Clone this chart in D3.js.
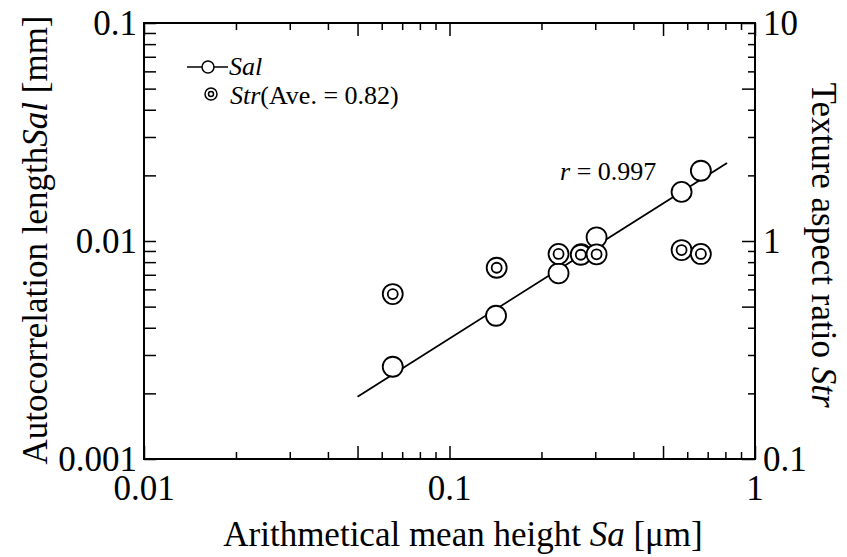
<!DOCTYPE html>
<html lang="en">
<head>
    <meta charset="UTF-8">
    <title>Sal and Str vs Sa</title>
    <script src="https://d3js.org/d3.v7.min.js"></script>
    <style>
        body { margin: 0; background: #fff; }
        svg text { font-family: "Liberation Serif", "Times New Roman", Times, "Nimbus Roman", "Nimbus Roman No9 L", "Noto Serif", "DejaVu Serif", "FreeSerif", Tinos, serif; fill: #000; }
        .tick-label { font-size: 35px; }
        .title { font-size: 35px; }
        .small { font-size: 26px; }
    </style>
</head>
<body>
    <div id="chart"></div>
    <script>
        // Data
        const saSal = [0.0652, 0.142, 0.2275, 0.27, 0.303, 0.575, 0.665];
        const salValues = [0.00265, 0.00454, 0.00711, 0.0087, 0.0104, 0.0168, 0.0210];
        const saStr = [0.0652, 0.1427, 0.2275, 0.269, 0.303, 0.575, 0.665];
        const strValues = [0.571, 0.754, 0.872, 0.865, 0.869, 0.909, 0.872];
        // regression line end points (r = 0.997)
        const fitX = [0.05, 0.81];
        const fitY = [0.00193, 0.0228];

        const xTickLabels = ["0.01", "0.1", "1"];
        const yTickLabels = ["0.001", "0.01", "0.1"];
        const y2TickLabels = ["0.1", "1", "10"];

        const W = 847, H = 557;
        const pLeft = 144, pRight = 755, pTop = 23, pBottom = 459;

        const svg = d3.select("#chart").append("svg")
            .attr("width", W)
            .attr("height", H);

        const x = d3.scaleLog().domain([0.01, 1]).range([pLeft, pRight]);
        const y = d3.scaleLog().domain([0.001, 0.1]).range([pBottom, pTop]);
        const y2 = d3.scaleLog().domain([0.1, 10]).range([pBottom, pTop]);

        // log ticks: 1..9 per decade
        function logTicks(lo, hi) {
            const t = [];
            for (let e = Math.round(Math.log10(lo)); e < Math.round(Math.log10(hi)); e++) {
                for (let m = 1; m < 10; m++) t.push(m * Math.pow(10, e));
            }
            t.push(hi);
            return t;
        }
        const isLong = v => {
            const m = Math.round(v / Math.pow(10, Math.floor(Math.log10(v) + 1e-9)));
            return m === 1 || m === 5 || m === 10;
        };

        const xt = logTicks(0.01, 1);
        const yt = logTicks(0.001, 0.1);
        const y2t = logTicks(0.1, 10);

        // Axes (ticks inward)
        const gx = svg.append("g").attr("transform", `translate(0,${pBottom})`);
        gx.call(d3.axisBottom(x).tickValues(xt.filter(isLong)).tickSize(-13).tickFormat(""));
        gx.append("g").call(d3.axisBottom(x).tickValues(xt.filter(v => !isLong(v))).tickSize(-7).tickFormat(""));
        const gxt = svg.append("g").attr("transform", `translate(0,${pTop})`);
        gxt.call(d3.axisTop(x).tickValues(xt.filter(isLong)).tickSize(-13).tickFormat(""));
        gxt.append("g").call(d3.axisTop(x).tickValues(xt.filter(v => !isLong(v))).tickSize(-7).tickFormat(""));

        const gy = svg.append("g").attr("transform", `translate(${pLeft},0)`);
        gy.call(d3.axisLeft(y).tickValues(yt).tickSize(-12).tickFormat(""));

        const gy2 = svg.append("g").attr("transform", `translate(${pRight},0)`);
        gy2.call(d3.axisRight(y2).tickValues(y2t.filter(isLong)).tickSize(-13).tickFormat(""));
        gy2.append("g").call(d3.axisRight(y2).tickValues(y2t.filter(v => !isLong(v))).tickSize(-7).tickFormat(""));

        svg.selectAll(".domain").remove();
        svg.selectAll(".tick line").attr("stroke", "#000").attr("stroke-width", 1.5);

        // frame
        svg.append("rect")
            .attr("x", pLeft).attr("y", pTop)
            .attr("width", pRight - pLeft).attr("height", pBottom - pTop)
            .attr("fill", "none").attr("stroke", "#000").attr("stroke-width", 2);

        // tick labels
        svg.selectAll(".xl").data(xTickLabels).enter().append("text")
            .attr("class", "tick-label")
            .attr("x", d => x(+d)).attr("y", 500)
            .attr("text-anchor", "middle")
            .text(d => d);
        svg.selectAll(".yl").data(yTickLabels).enter().append("text")
            .attr("class", "tick-label")
            .attr("x", pLeft - 7).attr("y", d => y(+d) + 12)
            .attr("text-anchor", "end")
            .text(d => d);
        svg.selectAll(".y2l").data(y2TickLabels).enter().append("text")
            .attr("class", "tick-label")
            .attr("x", pRight + 8).attr("y", d => y2(+d) + 12)
            .text(d => d);

        // axis titles
        const xTitle = svg.append("text").attr("class", "title")
            .attr("x", 463).attr("y", 546).attr("text-anchor", "middle");
        xTitle.append("tspan").text("Arithmetical mean height ");
        xTitle.append("tspan").attr("font-style", "italic").text("Sa");
        xTitle.append("tspan").text(" [\u03bcm]");

        const yTitle = svg.append("text").attr("class", "title")
            .attr("transform", "translate(47,240) rotate(-90)")
            .attr("text-anchor", "middle");
        yTitle.append("tspan").text("Autocorrelation length");
        yTitle.append("tspan").attr("font-style", "italic").text("Sal");
        yTitle.append("tspan").text(" [mm]");

        const y2Title = svg.append("text").attr("class", "title")
            .attr("transform", "translate(812,245) rotate(90)")
            .attr("text-anchor", "middle");
        y2Title.append("tspan").text("Texture aspect ratio ");
        y2Title.append("tspan").attr("font-style", "italic").text("Str");

        // regression line
        svg.append("path")
            .datum(fitX.map((d, i) => [d, fitY[i]]))
            .attr("fill", "none")
            .attr("stroke", "#000")
            .attr("stroke-width", 1.8)
            .attr("d", d3.line().x(d => x(d[0])).y(d => y(d[1])));

        // Sal points
        svg.selectAll(".sal").data(saSal).enter().append("circle")
            .attr("cx", d => x(d))
            .attr("cy", (d, i) => y(salValues[i]))
            .attr("r", 10)
            .attr("fill", "#fff").attr("stroke", "#000").attr("stroke-width", 1.8);

        // Str points
        const strG = svg.selectAll(".str").data(saStr).enter().append("g")
            .attr("transform", (d, i) => `translate(${x(d)},${y2(strValues[i])})`);
        strG.append("circle").attr("r", 10)
            .attr("fill", "#fff").attr("stroke", "#000").attr("stroke-width", 1.8);
        strG.append("circle").attr("r", 5)
            .attr("fill", "#fff").attr("stroke", "#000").attr("stroke-width", 1.8);

        svg.append("text").attr("class", "small")
            .attr("x", 560).attr("y", 180)
            .html('<tspan font-style="italic">r</tspan> = 0.997');

        // legend
        const lg = svg.append("g");
        lg.append("line").attr("x1", 187).attr("x2", 228).attr("y1", 67).attr("y2", 67)
            .attr("stroke", "#000").attr("stroke-width", 1.5);
        lg.append("circle").attr("cx", 208).attr("cy", 67).attr("r", 6)
            .attr("fill", "#fff").attr("stroke", "#000").attr("stroke-width", 1.5);
        lg.append("text").attr("class", "small").attr("x", 229).attr("y", 75)
            .attr("font-style", "italic").text("Sal");
        lg.append("circle").attr("cx", 211).attr("cy", 94).attr("r", 6)
            .attr("fill", "#fff").attr("stroke", "#000").attr("stroke-width", 1.5);
        lg.append("circle").attr("cx", 211).attr("cy", 94).attr("r", 2.5)
            .attr("fill", "#fff").attr("stroke", "#000").attr("stroke-width", 1.5);
        const lt = lg.append("text").attr("class", "small").attr("x", 230).attr("y", 104);
        lt.append("tspan").attr("font-style", "italic").text("Str");
        lt.append("tspan").text("(Ave. = 0.82)");
    </script>
</body>
</html>
